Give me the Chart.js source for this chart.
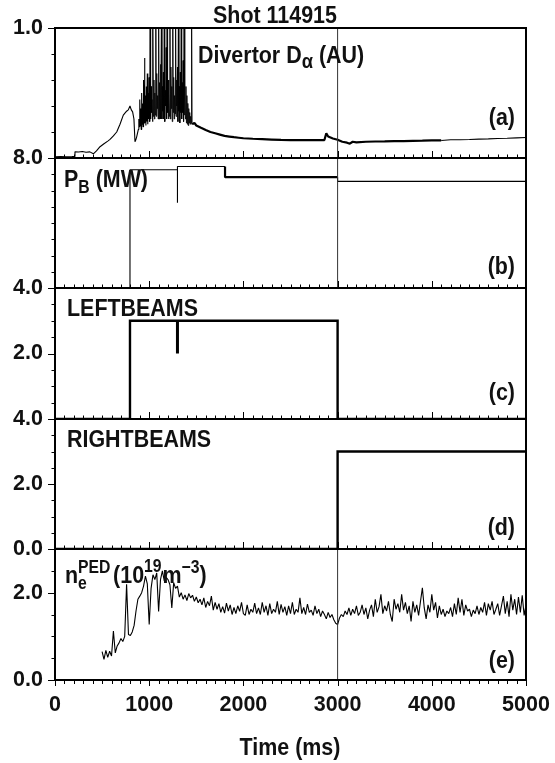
<!DOCTYPE html>
<html><head><meta charset="utf-8">
<script src="https://cdn.jsdelivr.net/npm/chart.js@4.4.0/dist/chart.umd.min.js"></script>
<style>
html,body{margin:0;padding:0;background:#fff;width:555px;height:763px;overflow:hidden}
#wrap{position:relative;width:555px;height:763px;background:#fff}
canvas{position:absolute;left:0;top:0}
</style></head><body><div id="wrap">
<canvas id="pa" width="555" height="763"></canvas>
<canvas id="pb" width="555" height="763"></canvas>
<canvas id="pc" width="555" height="763"></canvas>
<canvas id="pd" width="555" height="763"></canvas>
<canvas id="pe" width="555" height="763"></canvas>
</div>
<script>
// ---------------- DATA ----------------
const timeTicks = [0, 1000, 2000, 3000, 4000, 5000];
const markerTime = 3000;

// (a) Divertor D-alpha (AU)
const dalphaPreTime  = [0, 60, 120, 180, 205, 212, 250, 290, 330, 370, 407, 440, 478, 520, 560, 584, 620, 655, 690, 725, 760, 778, 796, 810, 824, 838, 849, 858, 867, 885];
const dalphaPreValue = [0.010, 0.012, 0.009, 0.011, 0.012, 0.048, 0.046, 0.050, 0.044, 0.047, 0.032, 0.055, 0.087, 0.11, 0.13, 0.143, 0.17, 0.20, 0.26, 0.33, 0.36, 0.37, 0.40, 0.37, 0.355, 0.30, 0.125, 0.14, 0.163, 0.22];
const dalphaElmStart = 890, dalphaElmStep = 5;
const dalphaElmValue = [
  0.30,0.24,0.45,0.25,0.38,0.22,0.50,0.26,0.42,0.24,
  0.60,0.27,0.77,0.30,0.48,0.25,0.55,0.28,0.65,0.26,
  0.50,0.30,0.62,0.28,1.20,0.30,0.55,0.35,0.45,0.28,
  1.20,0.32,0.60,0.30,0.50,0.33,1.20,0.32,0.65,0.38,
  0.48,0.30,1.20,0.30,0.58,0.35,0.72,0.30,1.20,0.30,
  0.55,0.36,0.66,0.30,1.20,0.28,0.52,0.40,0.85,0.30,
  1.20,0.35,0.60,0.30,0.50,0.32,1.20,0.30,0.70,0.38,
  0.55,0.28,1.20,0.35,0.62,0.30,0.48,0.34,1.20,0.32,
  0.60,0.40,0.70,0.28,1.20,0.36,0.55,0.27,0.66,0.35,
  1.20,0.30,0.58,0.35,0.75,0.28,1.20,0.33,0.52,0.30,
  0.55,0.27,0.48,0.26,0.42,0.25,0.38,0.27,0.35,0.26,
  0.32,0.27,1.20,0.27,0.26];
const dalphaPostTime  = [1480, 1500, 1550, 1600, 1650, 1700, 1750, 1800, 1850, 1900, 1950, 2000, 2100, 2200, 2300, 2400, 2500, 2600, 2700, 2800, 2860, 2880, 2900, 2950, 3000, 3050, 3100, 3130, 3160, 3200, 3300, 3400, 3500, 3600, 3700, 3800, 3900, 4000, 4100, 4200, 4300, 4400, 4500, 4600, 4700, 4800, 4900, 5000];
const dalphaPostValue = [0.27, 0.25, 0.232, 0.215, 0.20, 0.19, 0.18, 0.17, 0.165, 0.16, 0.156, 0.152, 0.148, 0.145, 0.142, 0.139, 0.138, 0.137, 0.137, 0.138, 0.138, 0.19, 0.165, 0.15, 0.14, 0.125, 0.118, 0.11, 0.125, 0.12, 0.125, 0.127, 0.128, 0.13, 0.13, 0.132, 0.133, 0.135, 0.135, 0.14, 0.14, 0.142, 0.145, 0.147, 0.15, 0.152, 0.155, 0.158];

// (b) P_B (MW)
const pbTime  = [0, 796, 796, 1300, 1300, 1300, 1805, 1805, 3000, 3000, 5000];
const pbValue = [0, 0, 7.28, 7.28, 5.25, 7.48, 7.48, 6.82, 6.82, 6.56, 6.56];

// (c) LEFTBEAMS
const leftTime  = [0, 796, 796, 3000, 3000, 5000];
const leftValue = [0, 0, 3, 3, 0, 0];
const leftDipTime  = [1300, 1300];
const leftDipValue = [3, 2];

// (d) RIGHTBEAMS
const rightTime  = [0, 3000, 3000, 5000];
const rightValue = [0, 0, 3, 3];

// (e) n_e^PED (10^19 m^-3)
const neStart = 500, neStep = 20;
const neValue = [
  0.65,0.47,0.68,0.52,0.66,0.55,1.12,0.62,0.78,0.85,
  0.95,0.88,1.00,2.19,1.04,1.02,1.10,1.25,1.58,1.85,
  1.92,2.00,2.15,2.38,2.20,1.27,2.10,2.41,2.30,2.45,
  1.57,2.30,2.50,2.27,2.35,2.30,2.18,1.65,2.23,2.10,
  2.15,1.90,2.00,1.85,1.95,1.82,1.98,1.88,1.94,1.80,
  1.90,1.77,1.85,1.72,1.88,1.66,1.80,1.70,1.92,1.60,
  1.78,1.62,1.75,1.55,1.68,1.53,1.76,1.58,1.72,1.50,
  1.66,1.52,1.70,1.57,1.78,1.52,1.48,1.72,1.50,1.62,
  1.55,1.76,1.52,1.65,1.50,1.78,1.55,1.70,1.48,1.75,
  1.52,1.62,1.55,1.80,1.50,1.73,1.55,1.68,1.48,1.70,
  1.52,1.78,1.50,1.62,1.55,1.88,1.52,1.66,1.50,1.74,
  1.55,1.60,1.48,1.70,1.52,1.62,1.45,1.58,1.50,1.40,
  1.55,1.43,1.50,1.38,1.30,1.27,1.42,1.50,1.45,1.58,
  1.50,1.65,1.48,1.62,1.52,1.70,1.48,1.55,1.72,1.50,
  1.65,1.40,1.60,1.72,1.45,1.85,1.55,1.68,1.96,1.52,
  1.70,1.58,1.80,1.50,1.34,1.85,1.62,1.75,1.55,1.96,
  1.60,1.78,1.52,1.70,1.34,1.80,1.55,1.72,1.48,1.80,
  2.11,1.65,1.40,1.72,1.55,1.96,1.60,1.78,1.42,1.70,
  1.50,1.62,1.45,1.58,1.52,1.66,1.45,1.75,1.50,1.88,
  1.55,1.85,1.48,1.72,1.58,1.62,1.45,1.60,1.52,1.70,
  1.50,1.66,1.55,1.78,1.48,1.75,1.60,1.80,1.50,1.62,
  1.75,1.48,1.70,1.92,1.52,1.80,1.45,1.96,1.60,1.85,
  1.50,1.90,1.55,1.94,1.48,1.72];

// y tick labels per panel
const yLabelsA = [1.0];
const yLabelsB = [8.0];
const yLabelsC = [4.0, 2.0];
const yLabelsD = [4.0, 2.0, 0.0];
const yLabelsE = [2.0, 0.0];

// ---------------- LAYOUT / STYLE ----------------
const W = 555, H = 763, PLOT_LEFT = 55, PLOT_RIGHT = 526;
const PANELS = { a:[28,158], b:[158,288], c:[288,419], d:[419,549], e:[549,680] };
const INK = '#111';
const TXT = '"Liberation Sans", Arial, Helvetica, sans-serif';
const SX = 0.875;

function hasFont(name){
  const c = document.createElement('canvas').getContext('2d');
  c.font = '40px monospace'; const w1 = c.measureText('abcdefghijWM0123').width;
  c.font = '40px "' + name + '", monospace'; const w2 = c.measureText('abcdefghijWM0123').width;
  return w1 !== w2;
}
const NARROW = hasFont('Liberation Sans Narrow');
const TICK_FONT = NARROW
  ? {family:'"Liberation Sans Narrow", "Liberation Sans", Arial, sans-serif', size:24, weight:'bold'}
  : {family:TXT, size:21.5, weight:'bold'};
const XPAD = 705 - 680 - 0.6 * TICK_FONT.size;

function pts(t, v){ return t.map((x,i)=>({x, y:v[i]})); }
function stepPts(start, step, v){ return v.map((y,i)=>({x:start + i*step, y})); }

const panelChrome = {
  id:'panelChrome',
  afterDatasetsDraw(chart, args, o){
    const {ctx, chartArea:ca, scales:{x, y}} = chart;
    ctx.save();
    ctx.strokeStyle = '#000';
    ctx.lineWidth = 1;
    y.ticks.forEach(tk => {
      const v = tk.value;
      const major = o.yMajor.some(m => Math.abs(m - v) < 1e-6) || Math.abs(v - y.max) < 1e-6 || Math.abs(v - y.min) < 1e-6;
      const len = major ? 7 : 3.5;
      const py = Math.round(y.getPixelForValue(v)) + 0.5;
      ctx.beginPath(); ctx.moveTo(ca.left - len, py); ctx.lineTo(ca.left, py); ctx.stroke();
    });
    for (let t = 0; t <= 5000; t += 100){
      const px = Math.round(x.getPixelForValue(t)) + 0.5;
      const major = t % 1000 === 0;
      const len = major ? 7 : 3.5;
      ctx.beginPath();
      if (o.xDown){ ctx.moveTo(px, ca.bottom); ctx.lineTo(px, ca.bottom + (major ? 6 : 4)); }
      else { ctx.moveTo(px, ca.bottom); ctx.lineTo(px, ca.bottom - len); }
      ctx.stroke();
    }
    ctx.lineWidth = 2;
    ctx.strokeRect(ca.left, ca.top, ca.right - ca.left, ca.bottom - ca.top);
    ctx.restore();
  }
};

function richWidth(ctx, parts){
  let w = 0, lastStart = 0, lastW = 0;
  for (const p of parts){
    ctx.font = 'bold ' + p.s + 'px ' + TXT;
    const pw = ctx.measureText(p.t).width;
    if (p.stack){ w = lastStart + Math.max(lastW, pw); lastW = Math.max(lastW, pw); }
    else { lastStart = w; lastW = pw; w += pw; }
    w += (p.g || 0);
  }
  return w;
}
function drawRich(ctx, x, y, parts, align){
  ctx.save();
  ctx.translate(x, y); ctx.scale(SX, 1);
  ctx.fillStyle = INK; ctx.textBaseline = 'alphabetic'; ctx.textAlign = 'left';
  const w = richWidth(ctx, parts);
  let cx = align === 'right' ? -w : align === 'center' ? -w/2 : 0;
  let lastStart = cx, lastW = 0;
  for (const p of parts){
    ctx.font = 'bold ' + p.s + 'px ' + TXT;
    const pw = ctx.measureText(p.t).width;
    if (p.stack){
      ctx.fillText(p.t, lastStart, p.dy || 0);
      cx = lastStart + Math.max(lastW, pw); lastW = Math.max(lastW, pw);
    } else {
      lastStart = cx; lastW = pw;
      ctx.fillText(p.t, cx, p.dy || 0);
      cx += pw;
    }
    cx += (p.g || 0);
  }
  ctx.restore();
}

const M = 24.5, S = 18;
const textPlugin = {
  id:'texts',
  afterDraw(chart){
    const ctx = chart.ctx;
    drawRich(ctx, 213, 23, [{t:'Shot 114915', s:M}]);
    drawRich(ctx, 198, 63, [{t:'Divertor D', s:M}, {t:'α', s:21, dy:5}, {t:' (AU)', s:M}]);
    drawRich(ctx, 64, 187, [{t:'P', s:M}, {t:'B', s:S, dy:6}, {t:' (MW)', s:M}]);
    drawRich(ctx, 67, 316, [{t:'LEFTBEAMS', s:M}]);
    drawRich(ctx, 67, 447, [{t:'RIGHTBEAMS', s:M}]);
    drawRich(ctx, 65, 583, [
      {t:'n', s:M}, {t:'e', s:S, dy:6}, {t:'PED', s:S, dy:-10, stack:true, g:3},
      {t:'(10', s:M}, {t:'19', s:S, dy:-11, g:1}, {t:'m', s:M}, {t:'−3', s:S, dy:-10}, {t:')', s:M}]);
    drawRich(ctx, 515, 125, [{t:'(a)', s:M}], 'right');
    drawRich(ctx, 515, 274, [{t:'(b)', s:M}], 'right');
    drawRich(ctx, 515, 400, [{t:'(c)', s:M}], 'right');
    drawRich(ctx, 515, 535, [{t:'(d)', s:M}], 'right');
    drawRich(ctx, 515, 668, [{t:'(e)', s:M}], 'right');
    drawRich(ctx, 290, 755, [{t:'Time (ms)', s:M}], 'center');
  }
};

function line(data, width, extra){
  return Object.assign({data, showLine:true, borderColor:'#000', borderWidth:width, pointRadius:0, tension:0, borderJoinStyle:'bevel'}, extra || {});
}
function markerLine(ymin, ymax){
  return line([{x:markerTime, y:ymin}, {x:markerTime, y:ymax}], 1, {borderColor:'#333'});
}

function makePanel(id, key, yOpt, datasets, isLast, extraPlugins){
  const [top, bottom] = PANELS[key];
  const labels = yOpt.labels;
  const chart = new Chart(document.getElementById(id), {
    type:'scatter',
    data:{datasets},
    options:{
      responsive:false, animation:false, devicePixelRatio:1, events:[],
      layout:{padding:{left:0, right:W - PLOT_RIGHT, top:top, bottom: isLast ? 0 : H - bottom}},
      plugins:{legend:{display:false}, tooltip:{enabled:false}, panelChrome:{yMajor:labels, xDown:isLast}},
      scales:{
        x:{type:'linear', min:0, max:5000, display:isLast,
           afterFit: s => { if (isLast) s.height = H - bottom; s.paddingLeft = 0; s.paddingRight = 0; },
           ticks:{stepSize:1000, autoSkip:false, maxRotation:0, font:TICK_FONT, color:INK, padding:XPAD,
                  callback: v => timeTicks.includes(v) ? String(v) : ''},
           grid:{display:false, drawTicks:false}, border:{display:false}},
        y:{type:'linear', min:yOpt.min, max:yOpt.max,
           afterFit: s => { s.width = PLOT_LEFT; s.paddingTop = 0; s.paddingBottom = 0; },
           ticks:{stepSize:yOpt.step, autoSkip:false, font:TICK_FONT, color:INK, padding:12,
                  callback: v => { const m = labels.find(l => Math.abs(l - v) < 1e-6); return m === undefined ? '' : m.toFixed(1); }},
           grid:{display:false, drawTicks:false}, border:{display:false}}
      }
    },
    plugins:[panelChrome].concat(extraPlugins || [])
  });
  // safety: nudge layout padding so the plot area lands exactly on the panel box
  for (let k = 0; k < 2; k++){
    const ca = chart.chartArea, p = chart.options.layout.padding;
    const dl = PLOT_LEFT - ca.left, dr = ca.right - PLOT_RIGHT, dt = top - ca.top, db = ca.bottom - bottom;
    if (Math.abs(dl) < 0.5 && Math.abs(dr) < 0.5 && Math.abs(dt) < 0.5 && Math.abs(db) < 0.5) break;
    p.left += dl; p.right += dr; p.top += dt; p.bottom += db;
    chart.update();
  }
  return chart;
}

const dalphaAll = pts(dalphaPreTime, dalphaPreValue)
  .concat(stepPts(dalphaElmStart, dalphaElmStep, dalphaElmValue))
  .concat(pts(dalphaPostTime, dalphaPostValue));

makePanel('pa', 'a', {min:0, max:1, step:0.2, labels:yLabelsA}, [
  markerLine(0, 1),
  line(dalphaAll, 1, {segment:{borderWidth: c => (c.p0.parsed.x >= 1455 && c.p0.parsed.x < 4050) ? 2.2 : (c.p0.parsed.x >= 1000 && c.p0.parsed.x < 1455 ? 0.9 : 1.1)}})
], false);

makePanel('pb', 'b', {min:0, max:8, step:1, labels:yLabelsB}, [
  markerLine(0, 8),
  line(pts(pbTime, pbValue), 1.1, {segment:{borderWidth: c => (c.p0.parsed.x >= 1805 && c.p0.parsed.x < 3000) ? 2.2 : 1.1}})
], false);

makePanel('pc', 'c', {min:0, max:4, step:0.5, labels:yLabelsC}, [
  line(pts(leftTime, leftValue), 2.4, {borderJoinStyle:'miter'}),
  line(pts(leftDipTime, leftDipValue), 3)
], false);

makePanel('pd', 'd', {min:0, max:4, step:0.5, labels:yLabelsD}, [
  line(pts(rightTime, rightValue), 2.4, {borderJoinStyle:'miter'})
], false);

makePanel('pe', 'e', {min:0, max:3, step:0.5, labels:yLabelsE}, [
  markerLine(0, 3),
  line(stepPts(neStart, neStep, neValue), 1.1)
], true, [textPlugin]);
</script>
</body></html>
